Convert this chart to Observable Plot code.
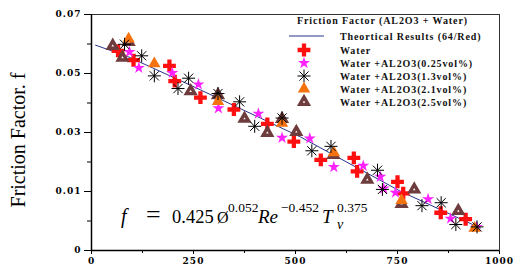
<!DOCTYPE html>
<html><head><meta charset="utf-8">
<script src="https://cdn.jsdelivr.net/npm/d3@7"></script>
<script src="https://cdn.jsdelivr.net/npm/@observablehq/plot@0.6"></script>
<style>body{margin:0;background:#fff} svg{display:block}</style>
</head><body><div id="chart"></div>
<script>
// ---- data (Re vs friction factor f) ----
const theoryRe = [10, 88, 243, 414, 512, 757, 953];
const theoryF  = [0.0596, 0.0558, 0.0460, 0.0349, 0.0285, 0.0101, 0.0038];

const waterRe = [65, 103, 191, 204, 267, 349, 431, 496, 562, 643, 651, 750, 764, 856, 917];
const waterF  = [0.0577, 0.0545, 0.0526, 0.0474, 0.0418, 0.0378, 0.0329, 0.0269, 0.0207, 0.0214, 0.0168, 0.0133, 0.0097, 0.0064, 0.0053];

const al025Re = [93, 116, 198, 262, 311, 409, 467, 535, 594, 666, 708, 716, 745, 825, 880, 944];
const al025F  = [0.0573, 0.0519, 0.0502, 0.0463, 0.0382, 0.0364, 0.0282, 0.0280, 0.0183, 0.0187, 0.0150, 0.0110, 0.0098, 0.0087, 0.0054, 0.0040];

const al13Re = [81, 123, 154, 238, 212, 310, 363, 400, 467, 540, 587, 701, 713, 810, 857, 893, 945];
const al13F  = [0.0599, 0.0560, 0.0492, 0.0484, 0.0449, 0.0432, 0.0404, 0.0321, 0.0349, 0.0238, 0.0253, 0.0172, 0.0107, 0.0076, 0.0081, 0.0044, 0.0040];

const al21Re = [91, 154, 310, 467, 594, 760, 939];
const al21F  = [0.0617, 0.0533, 0.0405, 0.0332, 0.0232, 0.0085, 0.0038];

const al25Re = [52, 76, 91, 243, 310, 375, 431, 467, 502, 593, 676, 760, 791, 899];
const al25F  = [0.0594, 0.0554, 0.0607, 0.0440, 0.0427, 0.0347, 0.0299, 0.0346, 0.0302, 0.0224, 0.0140, 0.0079, 0.0107, 0.0067];

const xTicks = [0, 250, 500, 750, 1000];
const xMinorTicks = [125, 375, 625, 875];
const yTicks = [0, 0.01, 0.03, 0.05, 0.07];
const yTickLabels = ["0", "0.01", "0.03", "0.05", "0.07"];
const yMinorTicks = [0.005, 0.02, 0.04, 0.06];

const legendTitle = "Friction Factor (AL2O3 + Water)";
const seriesNames = ["Theortical Results (64/Red)", "Water", "Water +AL2O3(0.25vol%)",
  "Water +AL2O3(1.3vol%)", "Water +AL2O3(2.1vol%)", "Water +AL2O3(2.5vol%)"];
const yTitle = "Friction Factor. f";

// ---- build ----
// The printed y axis is piecewise: equal spacing for 0, 0.01, 0.03, 0.05, 0.07
const yPos = f => f <= 0.01 ? 2 * f : f + 0.01;
const zip = (xs, ys) => xs.map((x, i) => ({Re: x, f: ys[i]}));
const theory = zip(theoryRe, theoryF);
const water = zip(waterRe, waterF);
const al025 = zip(al025Re, al025F);
const al13 = zip(al13Re, al13F);
const al21 = zip(al21Re, al21F);
const al25 = zip(al25Re, al25F);
const Y = d => yPos(d.f);

const asterisk = {
  draw(ctx, size) {
    const r = Math.sqrt(size / Math.PI);
    for (let k = 0; k < 4; k++) {
      const a = k * Math.PI / 4;
      ctx.moveTo(r * Math.cos(a), r * Math.sin(a));
      ctx.lineTo(-r * Math.cos(a), -r * Math.sin(a));
    }
  }
};

const W = 525, H = 270, mT = 14, mB = 20, mL = 91, mR = 26;
const C = {red: "#ff1010", mag: "#ff22ff", orange: "#f5730f", brown: "#6e3c3c", line: "#27348b"};
const tickFont = {fontFamily: "DejaVu Serif", fontWeight: "bold", fontSize: 9};

const svg = Plot.plot({
  width: W, height: H,
  marginTop: mT, marginBottom: mB, marginLeft: mL, marginRight: mR,
  style: {background: "#fff", color: "#000"},
  x: {domain: [0, 1000]},
  y: {domain: [0, yPos(0.07)]},
  marks: [
    Plot.axisX({ticks: xTicks, tickSize: 4, tickPadding: 3, label: null, tickFormat: d => String(d), ...tickFont}),
    Plot.axisX({ticks: xMinorTicks, tickSize: 3, tickFormat: () => "", label: null}),
    Plot.axisY({ticks: yTicks.map(yPos), tickSize: 7, tickPadding: 3, label: null,
      tickFormat: d => yTickLabels[yTicks.map(yPos).findIndex(v => Math.abs(v - d) < 1e-9)], ...tickFont}),
    Plot.axisY({ticks: yMinorTicks.map(yPos), tickSize: 4, tickFormat: () => "", label: null}),
    Plot.frame({stroke: "#333", strokeWidth: 1}),
    Plot.ruleX([0], {stroke: "#000", strokeWidth: 1.5}),
    Plot.ruleY([0], {stroke: "#000", strokeWidth: 1.5}),
    Plot.line(theory, {x: "Re", y: Y, stroke: C.line, strokeWidth: 1}),
    Plot.dot(water, {x: "Re", y: Y, symbol: "cross", r: 5.4, fill: C.red, stroke: "none"}),
    Plot.dot(al025, {x: "Re", y: Y, symbol: "star", r: 3.8, fill: C.mag, stroke: "none"}),
    Plot.dot(al25, {x: "Re", y: Y, symbol: "triangle", r: 3.1, fill: "#fff", stroke: C.brown, strokeWidth: 3.4}),
    Plot.dot(al21, {x: "Re", y: Y, symbol: "triangle", r: 4.6, fill: C.orange, stroke: "none"}),
    Plot.dot(al13, {x: "Re", y: Y, symbol: asterisk, r: 6.5, fill: "none", stroke: "#000", strokeWidth: 1})
  ]
});
document.getElementById("chart").append(svg);

const s = d3.select(svg);
s.selectAll('g[aria-label="x-axis tick label"] text, g[aria-label="y-axis tick label"] text')
  .style("letter-spacing", "1px");

// y-axis title
s.append("text")
  .attr("transform", "translate(25,140) rotate(-90)")
  .attr("text-anchor", "middle")
  .attr("font-family", "Liberation Serif").attr("font-size", 20)
  .attr("fill", "#000").text(yTitle);

// formula
const fm = s.append("text").attr("font-family", "Liberation Serif").attr("fill", "#000")
  .attr("text-anchor", "start");
const parts = [
  {t: "f", x: 121, y: 223, size: 20, it: true},
  {t: "=", x: 146, y: 223, size: 26},
  {t: "0.425", x: 172, y: 223, size: 18.5},
  {t: "Ø", x: 217, y: 223, size: 16},
  {t: "0.052", x: 228, y: 212, size: 13.5},
  {t: "Re", x: 258, y: 223, size: 19, it: true},
  {t: "−0.452", x: 281, y: 212, size: 13.5},
  {t: "T", x: 322, y: 223, size: 19, it: true},
  {t: "v", x: 337, y: 229, size: 14, it: true},
  {t: "0.375", x: 337, y: 212, size: 13.5}
];
parts.forEach(p => fm.append("tspan").attr("x", p.x).attr("y", p.y)
  .attr("font-size", p.size).attr("font-style", p.it ? "italic" : "normal").text(p.t));

// legend
const lg = s.append("g").attr("font-family", "Liberation Serif").attr("font-weight", "bold")
  .attr("font-size", 10).attr("fill", "#111").attr("text-anchor", "start")
  .style("letter-spacing", "0.9px");
lg.append("text").attr("x", 297).attr("y", 24).text(legendTitle);
const rowY = [36, 50, 63, 76, 89, 102];
seriesNames.forEach((name, i) => {
  lg.append("text").attr("x", 340).attr("y", rowY[i] + 3.5).text(name);
});
lg.append("line").attr("x1", 289).attr("x2", 324).attr("y1", rowY[0]).attr("y2", rowY[0])
  .attr("stroke", C.line).attr("stroke-width", 1);
const sym = (type, size) => d3.symbol(type, size)();
lg.append("path").attr("transform", `translate(304,${rowY[1]})`).attr("d", sym(d3.symbolCross, Math.PI * 5.4 * 5.4)).attr("fill", C.red);
lg.append("path").attr("transform", `translate(304,${rowY[2]})`).attr("d", sym(d3.symbolStar, Math.PI * 3.8 * 3.8)).attr("fill", C.mag);
lg.append("path").attr("transform", `translate(304,${rowY[3]})`).attr("d", sym(asterisk, Math.PI * 6.5 * 6.5)).attr("fill", "none").attr("stroke", "#000");
lg.append("path").attr("transform", `translate(304,${rowY[4]})`).attr("d", sym(d3.symbolTriangle, Math.PI * 4.6 * 4.6)).attr("fill", C.orange);
lg.append("path").attr("transform", `translate(304,${rowY[5]})`).attr("d", sym(d3.symbolTriangle, Math.PI * 3.1 * 3.1)).attr("fill", "#fff").attr("stroke", C.brown).attr("stroke-width", 3.4);
</script>
</body></html>
